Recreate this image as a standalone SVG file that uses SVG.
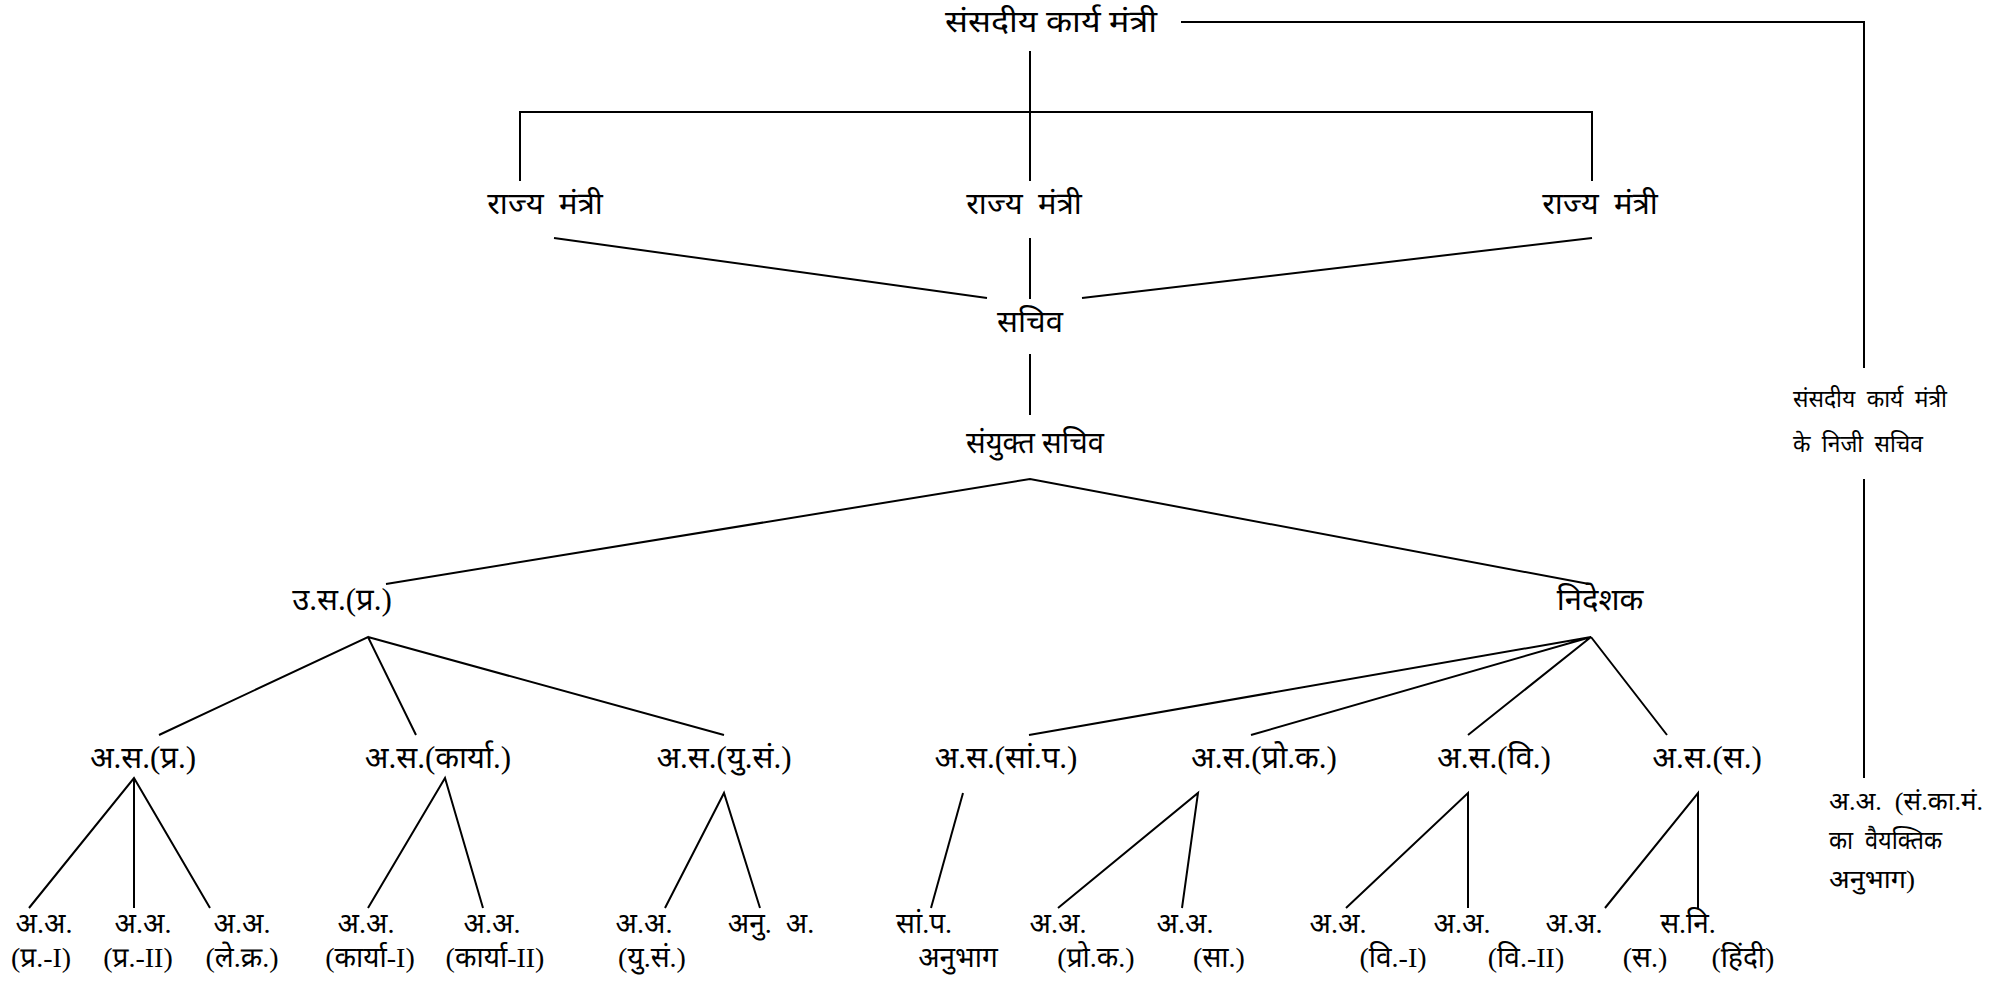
<svg xmlns="http://www.w3.org/2000/svg" width="2009" height="990" viewBox="0 0 2009 990">
<style>
text{font-family:"Liberation Serif","Noto Sans Devanagari","Noto Sans",serif;fill:#000;text-anchor:middle;white-space:pre}
.l{font-size:31px}
.m{font-size:28px}
.s{font-size:24px;text-anchor:start}
.t{font-size:26px;text-anchor:start}
.c path{fill:none;stroke:#000;stroke-width:2}
</style>
<rect width="2009" height="990" fill="#fff"/>
<g class="c" id="connectors">
<path d="M1181 22H1864V368"/>
<path d="M1864 479V778"/>
<path d="M1030 51V181"/>
<path d="M520 181V112H1592V181"/>
<path d="M1030 238V299"/>
<path d="M554 238L987 298"/>
<path d="M1592 238L1082 298"/>
<path d="M1030 354V415"/>
<path d="M386 584L1030 479L1589 584"/>
<path d="M159 735L368 637L416 735M368 637L724 735"/>
<path d="M1029 735L1591 637L1251 735M1591 637L1468 735M1591 637L1667 735"/>
<path d="M29 908L134 778L210 908M134 778V908"/>
<path d="M368 908L445 778L483 908"/>
<path d="M665 908L724 793L760 908"/>
<path d="M963 793L931 908"/>
<path d="M1058 908L1198 793L1182 908"/>
<path d="M1346 908L1468 793V908"/>
<path d="M1605 908L1698 793V908"/>
</g>
<g id="n-root"><text class="l" x="1051" y="32" textLength="212" lengthAdjust="spacingAndGlyphs">संसदीय कार्य मंत्री</text></g>
<g id="n-rm1"><text class="l" x="545" y="214">राज्य  मंत्री</text></g>
<g id="n-rm2"><text class="l" x="1024" y="214">राज्य  मंत्री</text></g>
<g id="n-rm3"><text class="l" x="1600" y="214">राज्य  मंत्री</text></g>
<g id="n-sachiv"><text class="l" x="1030" y="332">सचिव</text></g>
<g id="n-js"><text class="l" x="1035" y="453" textLength="138" lengthAdjust="spacingAndGlyphs">संयुक्त सचिव</text></g>
<g id="n-us"><text class="l" x="342" y="610">उ.स.(प्र.)</text></g>
<g id="n-dir"><text class="l" x="1600" y="610">निदेशक</text></g>
<g id="n-as1"><text class="l" x="143" y="768">अ.स.(प्र.)</text></g>
<g id="n-as2"><text class="l" x="438" y="768">अ.स.(कार्या.)</text></g>
<g id="n-as3"><text class="l" x="724" y="768">अ.स.(यु.सं.)</text></g>
<g id="n-as4"><text class="l" x="1006" y="768">अ.स.(सां.प.)</text></g>
<g id="n-as5"><text class="l" x="1264" y="768">अ.स.(प्रो.क.)</text></g>
<g id="n-as6"><text class="l" x="1494" y="768">अ.स.(वि.)</text></g>
<g id="n-as7"><text class="l" x="1707" y="768">अ.स.(स.)</text></g>
<g id="n-l1"><text class="m" x="44" y="933">अ.अ.</text><text class="m" x="41" y="967">(प्र.-I)</text></g>
<g id="n-l2"><text class="m" x="143" y="933">अ.अ.</text><text class="m" x="138" y="967">(प्र.-II)</text></g>
<g id="n-l3"><text class="m" x="242" y="933">अ.अ.</text><text class="m" x="242" y="967">(ले.क्र.)</text></g>
<g id="n-l4"><text class="m" x="366" y="933">अ.अ.</text><text class="m" x="370" y="967">(कार्या-I)</text></g>
<g id="n-l5"><text class="m" x="492" y="933">अ.अ.</text><text class="m" x="495" y="967">(कार्या-II)</text></g>
<g id="n-l6"><text class="m" x="644" y="933">अ.अ.</text><text class="m" x="652" y="967">(यु.सं.)</text></g>
<g id="n-l7"><text class="m" x="771" y="933">अनु.  अ.</text></g>
<g id="n-l8"><text class="m" x="924" y="933">सां.प.</text><text class="m" x="958" y="967">अनुभाग</text></g>
<g id="n-l9"><text class="m" x="1058" y="933">अ.अ.</text><text class="m" x="1096" y="967">(प्रो.क.)</text></g>
<g id="n-l10"><text class="m" x="1185" y="933">अ.अ.</text><text class="m" x="1219" y="967">(सा.)</text></g>
<g id="n-l11"><text class="m" x="1338" y="933">अ.अ.</text><text class="m" x="1393" y="967">(वि.-I)</text></g>
<g id="n-l12"><text class="m" x="1462" y="933">अ.अ.</text><text class="m" x="1526" y="967">(वि.-II)</text></g>
<g id="n-l13"><text class="m" x="1574" y="933">अ.अ.</text><text class="m" x="1645" y="967">(स.)</text></g>
<g id="n-l14"><text class="m" x="1688" y="933">स.नि.</text><text class="m" x="1743" y="967">(हिंदी)</text></g>
<g id="n-ps"><text class="s" x="1793" y="407" textLength="154" lengthAdjust="spacingAndGlyphs">संसदीय  कार्य  मंत्री</text><text class="s" x="1793" y="452" textLength="130" lengthAdjust="spacingAndGlyphs">के  निजी  सचिव</text></g>
<g id="n-pa"><text class="t" x="1829" y="810" textLength="154" lengthAdjust="spacingAndGlyphs">अ.अ.  (सं.का.मं.</text><text class="t" x="1829" y="849" textLength="113" lengthAdjust="spacingAndGlyphs">का  वैयक्तिक</text><text class="t" x="1829" y="888" textLength="86" lengthAdjust="spacingAndGlyphs">अनुभाग)</text></g>
</svg>
